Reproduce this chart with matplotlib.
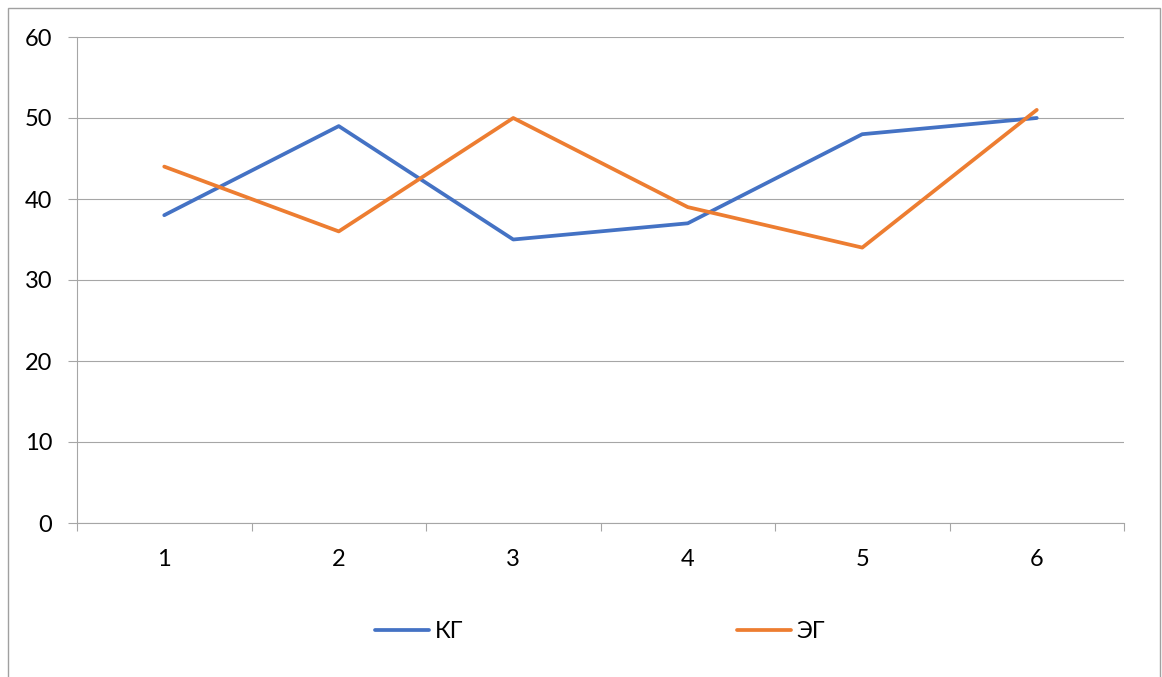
import matplotlib
matplotlib.use("Agg")
import matplotlib.pyplot as plt
from matplotlib.patches import Rectangle
from matplotlib.ticker import FixedLocator

categories = [1, 2, 3, 4, 5, 6]
kg_values = [38, 49, 35, 37, 48, 50]
eg_values = [44, 36, 50, 39, 34, 51]
y_ticks = [0, 10, 20, 30, 40, 50, 60]

BLUE = "#4472C4"
ORANGE = "#ED7D31"
GRID = "#A6A6A6"
FS = 17

plt.rcParams["font.family"] = ["Lato", "DejaVu Sans"]

W, H = 1162, 677
fig = plt.figure(figsize=(W / 100, H / 100), dpi=100)
fig.patch.set_facecolor("white")

# chart frame
fig.add_artist(Rectangle((7.5 / W, -0.05), (1160 - 7.5) / W, 1.05 - 8 / H,
                         transform=fig.transFigure, fill=False,
                         edgecolor="#A0A0A0", linewidth=1.0))

left, right, top, bottom = 77, 1124, 37, 523
ax = fig.add_axes([left / W, (H - bottom) / H, (right - left) / W, (bottom - top) / H])

x = list(range(len(categories)))
ax.plot(x, kg_values, color=BLUE, linewidth=2.7, solid_capstyle="round",
        solid_joinstyle="round", label="КГ", zorder=3)
ax.plot(x, eg_values, color=ORANGE, linewidth=2.7, solid_capstyle="round",
        solid_joinstyle="round", label="ЭГ", zorder=3)

ax.set_xlim(-0.5, len(categories) - 0.5)
ax.set_ylim(0, 60)

ax.set_xticks(x)
ax.set_xticklabels([str(c) for c in categories])
ax.xaxis.set_minor_locator(FixedLocator([i - 0.5 for i in range(len(categories) + 1)]))
ax.tick_params(axis="x", which="major", length=0, pad=19, labelsize=FS, labelcolor="#000000")
ax.tick_params(axis="x", which="minor", length=6, width=0.8, color=GRID)

ax.set_yticks(y_ticks)
ax.tick_params(axis="y", which="major", length=6.75, width=0.8, color=GRID,
               pad=11, labelsize=FS, labelcolor="#000000")

ax.grid(axis="y", color=GRID, linewidth=0.8, zorder=0)
for side in ("top", "right"):
    ax.spines[side].set_visible(False)
for side in ("left", "bottom"):
    ax.spines[side].set_color(GRID)
    ax.spines[side].set_linewidth(0.8)

fig.legend(loc="center", bbox_to_anchor=(600 / W, (H - 632) / H), ncol=2,
           frameon=False, fontsize=FS, handlelength=2.3, handletextpad=0.22,
           columnspacing=11.6)

fig.savefig("out.png", dpi=100, facecolor="white")
